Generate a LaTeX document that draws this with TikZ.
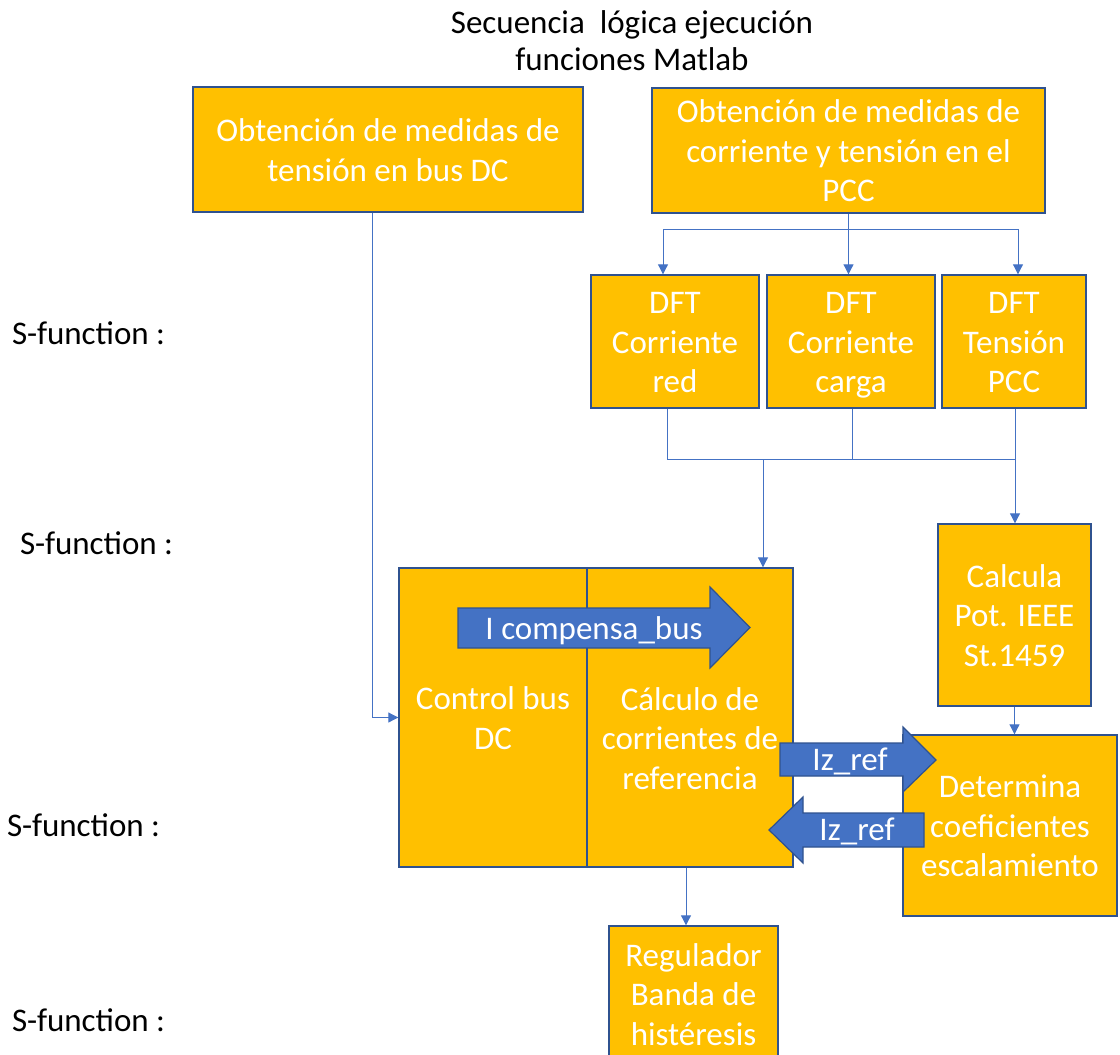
\documentclass[tikz,border=0pt]{standalone}
\usepackage{fontspec}
\setmainfont{Carlito}
\usetikzlibrary{arrows.meta}
\definecolor{gold}{HTML}{FFC000}
\definecolor{edge}{HTML}{2F528F}
\definecolor{wire}{HTML}{4472C4}
% fixed top and bottom extents so every text block centres on the same optical line
\newcommand\tstr{\rule{0pt}{32pt}}
\newcommand\bstr{\rule[-8.5pt]{0pt}{8.5pt}}
\begin{document}
\begin{tikzpicture}[x=1pt,y=-1pt,
  txt/.style={font=\fontsize{33}{39.6}\selectfont, align=center, inner sep=0pt},
  box/.style={txt, draw=edge, fill=gold, line width=1.4pt, text=white},
  conn/.style={draw=wire, line width=1pt},
  tip/.style={conn, -{Triangle[length=10pt,width=10pt]}},
  blk/.style={draw=edge, fill=wire, line width=1.2pt, line join=miter},
  lbl/.style={txt, text=black}]
\useasboundingbox (0,0) rectangle (1120,1055);
\clip (0,0) rectangle (1120,1055);

% title and row labels
\node[lbl] (title) at (632,40) {\tstr Secuencia\ \ lógica ejecución\\[-3pt]funciones Matlab\bstr};
\node[lbl, anchor=west] (s1) at (12,333) {\tstr S-function :\bstr};
\node[lbl, anchor=west] (s2) at (20,543) {\tstr S-function :\bstr};
\node[lbl, anchor=west] (s3) at (7,825) {\tstr S-function :\bstr};
\node[lbl, anchor=west] (s4) at (12,1020) {\tstr S-function :\bstr};

% measurement blocks
\node[box, minimum width=390pt, minimum height=125pt] (A) at (388,149.5)
  {\tstr Obtención de medidas de\\tensión en bus DC\bstr};
\node[box, minimum width=393pt, minimum height=125pt] (B) at (848.5,150.5)
  {\tstr Obtención de medidas de\\corriente y tensión en el\\PCC\bstr};

% DFT blocks
\node[box, minimum width=168pt, minimum height=133pt] (D1) at (675,341.5) {\tstr DFT\\Corriente\\red\bstr};
\node[box, minimum width=168pt, minimum height=133pt] (D2) at (851,341.5) {\tstr DFT\\Corriente\\carga\bstr};
\node[box, minimum width=144pt, minimum height=133pt] (D3) at (1014,341.5) {\tstr DFT\\Tensión\\PCC\bstr};

% control block (two halves)
\node[box, minimum width=188pt, minimum height=299pt] (ctrl) at (493,717.5) {};
\node[box, minimum width=206pt, minimum height=299pt] (calc) at (690,717.5) {};
\node[txt, text=white] (ctrlT) at (493,718) {\tstr Control bus\\DC\bstr};
\node[txt, text=white] (calcT) at (690,738) {\tstr Cálculo de\\corrientes de\\referencia\bstr};

% power and scaling blocks
\node[box, minimum width=153pt, minimum height=182pt] (pot) at (1014.5,615) {\tstr Calcula\\Pot. IEEE\\St.1459\bstr};
\node[box, minimum width=214pt, minimum height=181pt] (det) at (1010,825.5) {\tstr Determina\\coeficientes\\escalamiento\bstr};

% hysteresis regulator
\node[box, minimum width=169pt, minimum height=150pt] (reg) at (693.5,1001) {};
\node[txt, text=white] (regT) at (693.5,994) {\tstr Regulador\\Banda de\\histéresis\bstr};

% connectors
\draw[tip] ([xshift=-16pt]A.south) |- (ctrl.west);
\coordinate (split) at (B.south |- 0,229);
\draw[conn] (B.south) -- (split);
\draw[tip] (split) -| ([xshift=-12pt]D1.north);
\draw[tip] (split) -| ([xshift=4pt]D3.north);
\draw[tip] (split) -- (split |- D2.north);

\coordinate (merge) at (763,459);
\draw[conn] ([xshift=-8pt]D1.south) |- (merge);
\draw[conn] ([xshift=1pt]D2.south) |- ([xshift=1pt]D3.south |- merge);
\draw[conn] (merge) -- ([xshift=1pt]D3.south |- merge);
\draw[tip] ([xshift=1pt]D3.south) -- ([xshift=1pt]D3.south |- pot.north);
\draw[tip] (merge) -- (merge |- calc.north);
\draw[tip] (pot.south) -- (pot.south |- det.north);
\draw[tip] ([xshift=-4pt]calc.south) -- ([xshift=-4pt]calc.south |- reg.north);

% block arrows
\draw[blk] (458,608) -- (710,608) -- (710,587) -- (750,627.5) -- (710,668) -- (710,648) -- (458,648) -- cycle;
\node[txt, text=white] (comp) at (594,628) {\tstr I compensa\_bus\bstr};

\draw[blk] (780,743) -- (903,743) -- (903,727) -- (936,760) -- (903,792) -- (903,776) -- (780,776) -- cycle;
\node[txt, text=white] (izr) at (850,759) {\tstr Iz\_ref\bstr};

\draw[blk] (924,813) -- (803,813) -- (803,797) -- (769,830) -- (803,863) -- (803,847) -- (924,847) -- cycle;
\node[txt, text=white] (izl) at (857,829) {\tstr Iz\_ref\bstr};
\end{tikzpicture}
\end{document}
